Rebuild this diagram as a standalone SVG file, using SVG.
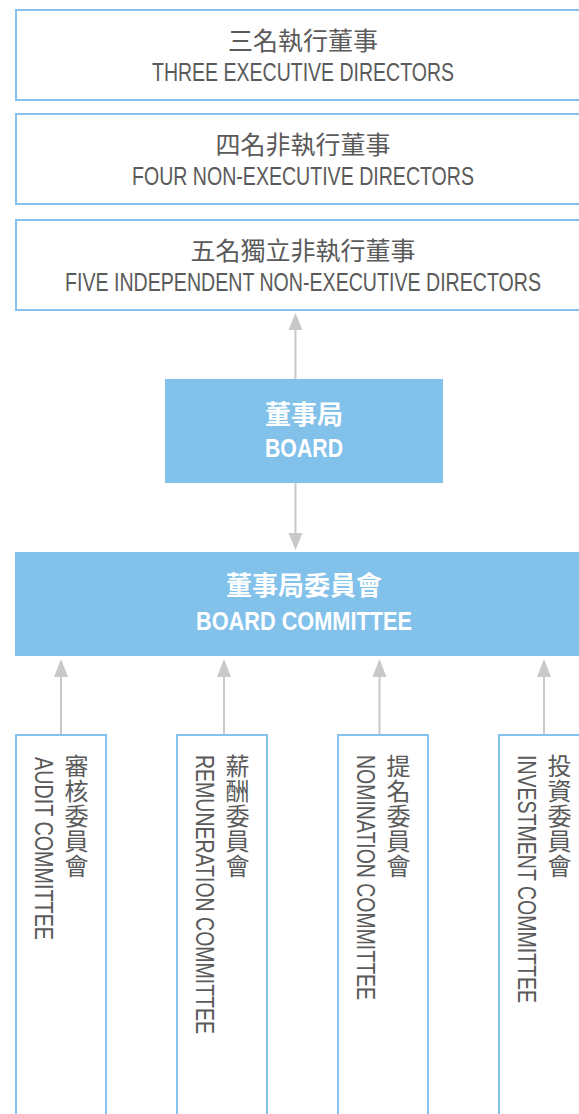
<svg xmlns="http://www.w3.org/2000/svg" width="579" height="1114" viewBox="0 0 579 1114">
<style>
.box{fill:#ffffff;stroke:#86C2EB;stroke-width:2}
.fill{fill:#82C1EA}
.zh{font-family:"Noto Sans CJK TC","Noto Sans CJK SC",sans-serif;fill:#5a5a5a;font-size:25px;text-anchor:middle}
.en{font-family:"Liberation Sans",Arial,sans-serif;fill:#5a5a5a;font-size:25px;text-anchor:middle}
.zhw{font-family:"Noto Sans CJK TC","Noto Sans CJK SC",sans-serif;fill:#ffffff;font-size:26px;font-weight:bold;text-anchor:middle}
.enw{font-family:"Liberation Sans",Arial,sans-serif;fill:#ffffff;font-size:25px;font-weight:bold;text-anchor:middle}
.vzh{font-family:"Noto Sans CJK TC","Noto Sans CJK SC",sans-serif;fill:#5a5a5a;font-size:24px;writing-mode:vertical-rl;text-orientation:upright;letter-spacing:1px}
.ven{font-family:"Liberation Sans",Arial,sans-serif;fill:#5a5a5a;font-size:25px}
.conn line{stroke:#C8C8C8;stroke-width:2}
.conn polygon{fill:#C8C8C8}
</style>
<rect width="579" height="1114" fill="#ffffff"/>
<g id="exec">
<rect class="box" x="16" y="10" width="600" height="90"/>
<text class="zh" x="303" y="50">三名執行董事</text>
<text class="en" x="303" y="81" textLength="302" lengthAdjust="spacingAndGlyphs">THREE EXECUTIVE DIRECTORS</text>
</g>
<g id="nonexec">
<rect class="box" x="16" y="114" width="600" height="90"/>
<text class="zh" x="303" y="154">四名非執行董事</text>
<text class="en" x="303" y="185" textLength="342" lengthAdjust="spacingAndGlyphs">FOUR NON-EXECUTIVE DIRECTORS</text>
</g>
<g id="indep">
<rect class="box" x="16" y="220" width="600" height="90"/>
<text class="zh" x="303" y="260">五名獨立非執行董事</text>
<text class="en" x="303" y="291" textLength="476" lengthAdjust="spacingAndGlyphs">FIVE INDEPENDENT NON-EXECUTIVE DIRECTORS</text>
</g>
<g id="board">
<rect class="fill" x="165" y="379" width="278" height="104"/>
<text class="zhw" x="304" y="424">董事局</text>
<text class="enw" x="304" y="457" textLength="78" lengthAdjust="spacingAndGlyphs">BOARD</text>
</g>
<g id="committee">
<rect class="fill" x="15" y="552" width="600" height="104"/>
<text class="zhw" x="304" y="595">董事局委員會</text>
<text class="enw" x="304" y="630" textLength="216" lengthAdjust="spacingAndGlyphs">BOARD COMMITTEE</text>
</g>
<g id="connectors" class="conn">
<line x1="295.5" y1="328" x2="295.5" y2="379"/>
<polygon points="295.5,313 288.5,330 302.5,330"/>
<line x1="295.5" y1="483" x2="295.5" y2="534"/>
<polygon points="295.5,550 288.5,533 302.5,533"/>
<line x1="61" y1="675" x2="61" y2="734"/>
<polygon points="61,659 54,677 68,677"/>
<line x1="224" y1="675" x2="224" y2="734"/>
<polygon points="224,659 217,677 231,677"/>
<line x1="379.5" y1="675" x2="379.5" y2="734"/>
<polygon points="379.5,659 372.5,677 386.5,677"/>
<line x1="544" y1="675" x2="544" y2="734"/>
<polygon points="544,659 537,677 551,677"/>
</g>
<g id="audit">
<rect class="box" x="16" y="735" width="90" height="400"/>
<text class="vzh" x="76.5" y="754">審核委員會</text>
<text class="ven" transform="translate(35,757) rotate(90)" textLength="183" lengthAdjust="spacingAndGlyphs">AUDIT COMMITTEE</text>
</g>
<g id="remuneration">
<rect class="box" x="177" y="735" width="90" height="400"/>
<text class="vzh" x="237.5" y="754">薪酬委員會</text>
<text class="ven" transform="translate(196,755) rotate(90)" textLength="279" lengthAdjust="spacingAndGlyphs">REMUNERATION COMMITTEE</text>
</g>
<g id="nomination">
<rect class="box" x="338" y="735" width="90" height="400"/>
<text class="vzh" x="398.5" y="754">提名委員會</text>
<text class="ven" transform="translate(357,755) rotate(90)" textLength="245" lengthAdjust="spacingAndGlyphs">NOMINATION COMMITTEE</text>
</g>
<g id="investment">
<rect class="box" x="499" y="735" width="120" height="400"/>
<text class="vzh" x="559.5" y="754">投資委員會</text>
<text class="ven" transform="translate(518,755) rotate(90)" textLength="248" lengthAdjust="spacingAndGlyphs">INVESTMENT COMMITTEE</text>
</g>
</svg>
